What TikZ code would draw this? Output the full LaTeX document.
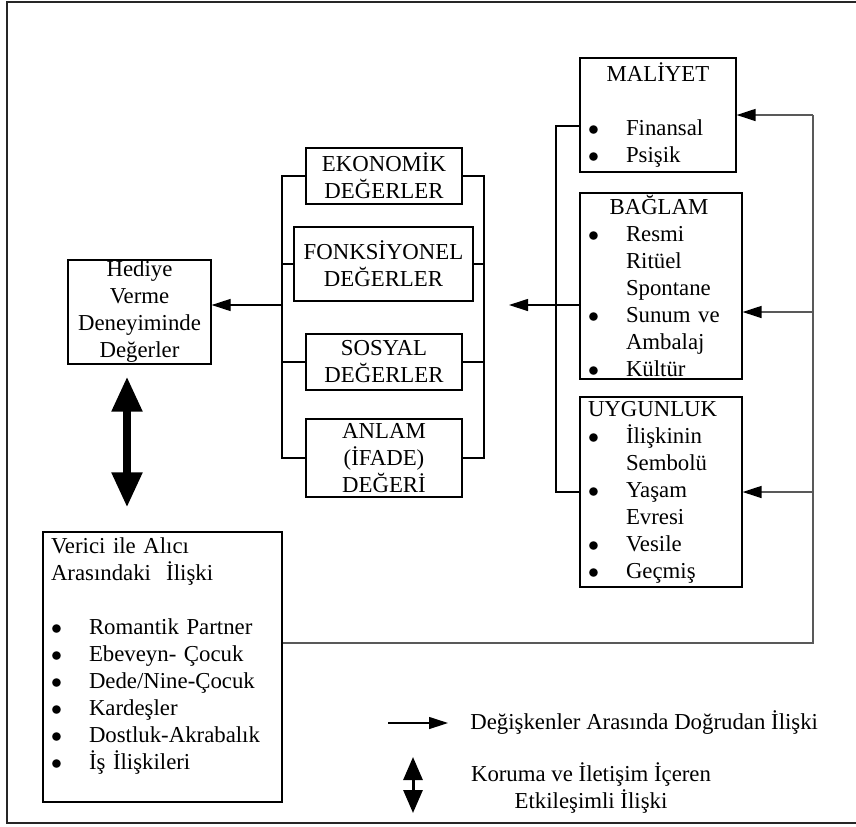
\documentclass[tikz,border=0pt]{standalone}
\usepackage{fontspec}
\setmainfont{Liberation Serif}
\usetikzlibrary{arrows.meta,calc}
\newcommand\itm[1]{\makebox[19pt][l]{$\bullet$}#1}
\newcommand\ind[1]{\hspace*{19pt}#1}
\newcommand\ttl[2]{\makebox[#1][c]{#2}}
\tikzset{
  ln/.style={line width=0.6pt},
  fb/.style={line width=0.7pt, black!65},
  arr/.style={-{Triangle[length=9.5pt, width=6pt, black]}},
  cbox/.style={draw, line width=0.6pt, align=center, inner sep=0pt},
  lbox/.style={draw, line width=0.6pt, align=left, inner xsep=4pt, inner ysep=0pt},
  big/.style={line width=4pt, {Triangle[length=17.5pt, width=14.5pt]}-{Triangle[length=17.5pt, width=14.5pt]}},
  small/.style={line width=1.5pt, {Triangle[length=11.5pt, width=9.5pt]}-{Triangle[length=11.5pt, width=9.5pt]}}
}
\begin{document}
\begin{tikzpicture}[x=0.5pt, y=-0.5pt, font=\fontsize{11.4}{13.5}\selectfont]
  \useasboundingbox (0, 0) rectangle (856, 826);
  \draw [line width=0.9pt, black!85] (856, 2) -- (7, 2) -- (7, 823) -- (856, 823);

  \node [cbox, minimum width=71.5pt, minimum height=52pt] (hed) at (139.5, 312) {Hediye\\ Verme\\ Deneyiminde\\ Değerler};

  \node [cbox, minimum width=78pt, minimum height=28pt] (eko) at (384, 176) {EKONOMİK\\ DEĞERLER};
  \node [cbox, minimum width=89.5pt, minimum height=37pt] (fon) at (383.5, 264) {FONKSİYONEL\\ DEĞERLER};
  \node [cbox, minimum width=78pt, minimum height=28pt] (sos) at (384, 362) {SOSYAL\\ DEĞERLER};
  \node [cbox, minimum width=78pt, minimum height=39pt] (anl) at (384, 458) {ANLAM\\ (İFADE)\\ DEĞERİ};

  \node [lbox, text width=70pt, minimum height=57pt] (mal) at (658, 115) {\ttl{70pt}{MALİYET}\\[13.5pt] \itm{Finansal}\\ \itm{Psişik}};
  \node [lbox, text width=73pt, minimum height=93pt] (bag) at (661, 286) {\ttl{71pt}{BAĞLAM}\\ \itm{Resmi}\\ \ind{Ritüel}\\ \ind{Spontane}\\ \itm{Sunum ve}\\ \ind{Ambalaj}\\ \itm{Kültür}};
  \node [lbox, text width=73pt, minimum height=95pt] (uyg) at (661, 492) {UYGUNLUK\\ \itm{İlişkinin}\\ \ind{Sembolü}\\ \itm{Yaşam}\\ \ind{Evresi}\\ \itm{Vesile}\\ \itm{Geçmiş}};

  \node [lbox, text width=111.5pt, minimum height=135pt] (ver) at (162.5, 667) {Verici ile Alıcı\\ Arasındaki~ İlişki\\[13.5pt] \itm{Romantik Partner}\\ \itm{Ebeveyn- Çocuk}\\ \itm{Dede/Nine-Çocuk}\\ \itm{Kardeşler}\\ \itm{Dostluk-Akrabalık}\\ \itm{İş İlişkileri}\\ \null};

  \coordinate (lbr) at (282, 305);
  \coordinate (rbr) at (484, 305);
  \draw [ln] (eko.west) -| (lbr) |- (anl.west);
  \draw [ln] (fon.west) -- (fon.west -| lbr);
  \draw [ln] (sos.west) -- (sos.west -| lbr);
  \draw [ln] (eko.east) -| (rbr) |- (anl.east);
  \draw [ln] (fon.east) -- (fon.east -| rbr);
  \draw [ln] (sos.east) -- (sos.east -| rbr);
  \draw [ln, arr] (lbr) -- (lbr -| hed.east);

  \coordinate (gbr) at (556, 305);
  \coordinate (gtip) at (509, 305);
  \draw [ln] ([yshift=-5.5pt]mal.west) -| (gbr) |- (uyg.west);
  \draw [ln, arr] (gbr -| bag.west) -- (gtip);

  \coordinate (fbk) at (813, 115);
  \coordinate (bagin) at ([yshift=-13pt]bag.east);
  \draw [fb] ([yshift=12pt]ver.east) -| (fbk);
  \draw [fb, arr] (fbk) -- (fbk -| mal.east);
  \draw [fb, arr] (fbk |- bagin) -- (bagin);
  \draw [fb, arr] (fbk |- uyg.east) -- (uyg.east);

  \coordinate (dtop) at ([xshift=-6.25pt, yshift=-6pt]hed.south);
  \coordinate (dbot) at ($(dtop |- ver.north)+(0, -24)$);
  \draw [big] (dtop) -- (dbot);

  \node [anchor=west, inner sep=0pt] (lg1) at (470, 723) {Değişkenler Arasında Doğrudan İlişki};
  \draw [ln, arr] ([xshift=-41pt]lg1.west) -- ([xshift=-11pt]lg1.west);
  \node [align=center, inner sep=0pt] (lg2) at (591, 788) {Koruma ve İletişim İçeren\\ Etkileşimli İlişki};
  \coordinate (k1) at (413, 757);
  \coordinate (k2) at (413, 813);
  \draw [small] (k1) -- (k2);
\end{tikzpicture}
\end{document}
